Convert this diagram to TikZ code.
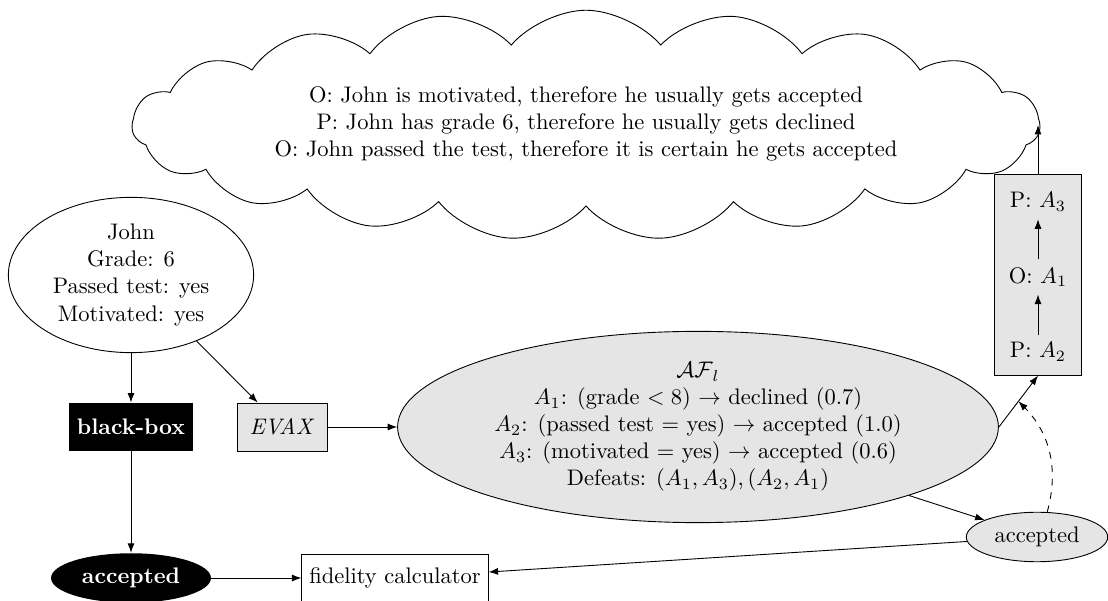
\documentclass[tikz,border=0pt]{standalone}
\usetikzlibrary{shapes.symbols,shapes.geometric,arrows.meta}
\begin{document}
\begin{tikzpicture}[x=0.4444pt,y=-0.4444pt,>={Latex[length=4.2pt,width=3.1pt]},
  gfill/.style={fill=black!10},
  rbox/.style={draw,rectangle,minimum height=21.3pt},
  blk/.style={fill=black,text=white,font=\bfseries},
  lbl/.style={inner sep=3.33pt}]
\useasboundingbox (0,0) rectangle (1108,601);
\node[cloud,draw,cloud puffs=19,cloud puff arc=100,cloud ignores aspect,inner sep=0pt,minimum width=403.5pt,minimum height=102pt] (cloud) at (586,125) {};
\node[align=center] (cloudtxt) at (586,124)
  {O: John is motivated, therefore he usually gets accepted\\P: John has grade 6, therefore he usually gets declined\\O: John passed the test, therefore it is certain he gets accepted};
\node[ellipse,draw,align=center,inner sep=1pt,minimum width=109pt,minimum height=69pt] (john) at (131,275)
  {John\\Grade: 6\\Passed test: yes\\Motivated: yes};
\node[rectangle,blk,minimum height=21.3pt] (bb) at (131,427) {black-box};
\node[rbox,gfill,minimum width=40pt] (evax) at (282,427) {\textit{EVAX}};
\node[ellipse,draw,gfill,align=center,inner sep=0pt,minimum width=267pt,minimum height=85pt] (af) at (698,427)
  {$\mathcal{AF}_l$\\$A_1$: (grade $< 8$) $\rightarrow$ declined $(0.7)$\\$A_2$: (passed test $=$ yes) $\rightarrow$ accepted $(1.0)$\\$A_3$: (motivated $=$ yes) $\rightarrow$ accepted $(0.6)$\\Defeats: $(A_1,A_3),(A_2,A_1)$};
\node[ellipse,blk] (acc1) at (131,578) {accepted};
\node[rbox] (fid) at (395,578) {fidelity calculator};
\node[ellipse,draw,gfill] (acc2) at (1037,537) {accepted};
\node[draw,gfill,rectangle,minimum width=39pt,minimum height=89pt] (disc) at (1038,275) {};
\node[lbl] (p3) at (1038,202) {P: $A_3$};
\node[lbl] (o1) at (1038,277) {O: $A_1$};
\node[lbl] (p2) at (1038,352) {P: $A_2$};
\draw[->] (john) -- (bb);
\draw[->] (john) -- (evax);
\draw[->] (evax) -- (af);
\draw[->] (bb) -- (acc1);
\draw[->] (acc1) -- (fid);
\draw[->] (acc2) -- (fid);
\draw[->] (af) -- (acc2);
\draw[->] (af.east) -- coordinate[pos=0.5] (mid) (disc.south);
\draw[->] (p2) -- (o1);
\draw[->] (o1) -- (p3);
\draw[->] (disc.north) -- (disc.north |- cloud.east);
\draw[->,dashed] (acc2) to[bend right] (mid);
\end{tikzpicture}
\end{document}
